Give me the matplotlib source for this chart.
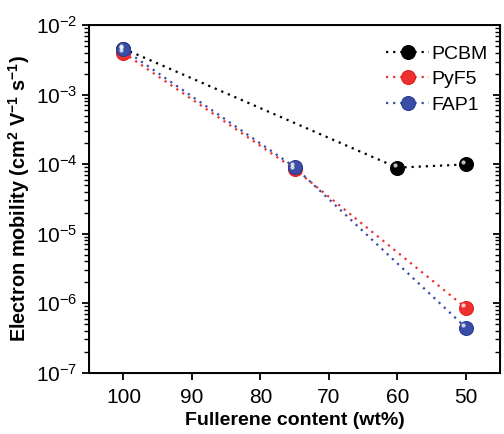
import numpy as np
import matplotlib
matplotlib.use('Agg')
import matplotlib.pyplot as plt
from matplotlib.transforms import offset_copy
from matplotlib.ticker import LogLocator, NullFormatter

plt.rcParams['font.family'] = ['Liberation Sans', 'DejaVu Sans']
plt.rcParams['mathtext.fontset'] = 'custom'
plt.rcParams['mathtext.rm'] = 'Liberation Sans'
plt.rcParams['mathtext.bf'] = 'Liberation Sans:bold'
plt.rcParams['mathtext.default'] = 'regular'

# data
pcbm_x = [100, 60, 50]
pcbm_y = [4.6e-3, 8.9e-5, 9.9e-5]
pyf5_x = [100, 75, 50]
pyf5_y = [4.0e-3, 8.5e-5, 8.6e-7]
fap1_x = [100, 75, 50]
fap1_y = [4.5e-3, 9.1e-5, 4.45e-7]

series = [
    ('PCBM', pcbm_x, pcbm_y, '#000000', '#000000'),
    ('PyF5', pyf5_x, pyf5_y, '#f03030', '#e02020'),
    ('FAP1', fap1_x, fap1_y, '#3a4ea8', '#2a3a90'),
]

fig = plt.figure(figsize=(5.04, 4.34), dpi=100)
ax = fig.add_axes([0.177, 0.1415, 0.815, 0.8005])

handles = []
for name, xs, ys, col, edge in series:
    h, = ax.plot(xs, ys, linestyle=(0, (1, 2.2)), linewidth=1.6, color=col,
                 marker='o', markersize=10, markerfacecolor=col,
                 markeredgecolor=edge, markeredgewidth=0.8, label=name, zorder=3)
    handles.append(h)
    # little highlight to mimic the shaded spheres
    tr = offset_copy(ax.transData, fig=fig, x=-1.8, y=1.8, units='points')
    ax.plot(xs, ys, linestyle='none', marker='o', markersize=3,
            markerfacecolor='white', markeredgewidth=0, alpha=0.75,
            transform=tr, zorder=4)

ax.set_yscale('log')
ax.set_ylim(1e-7, 1e-2)
ax.set_xlim(105, 45)
ax.set_xticks([100, 90, 80, 70, 60, 50])
ax.yaxis.set_minor_locator(LogLocator(base=10, subs=np.arange(2, 10), numticks=100))
ax.yaxis.set_minor_formatter(NullFormatter())

ax.set_xlabel('Fullerene content (wt%)', fontsize=14, fontweight='bold', labelpad=4)
ax.set_ylabel(r'Electron mobility (cm$^{\mathbf{2}}$ V$^{\mathbf{-1}}$ s$^{\mathbf{-1}}$)',
              fontsize=14.3, fontweight='bold', labelpad=3)

for s in ax.spines.values():
    s.set_linewidth(1.4)
ax.tick_params(axis='both', which='major', labelsize=15, width=1.3, length=5,
               direction='out', top=False)
ax.tick_params(axis='y', which='minor', width=1.0, length=3.5, direction='out')
ax.tick_params(axis='x', pad=6)

# right side ticks pointing in
ax2 = ax.twinx()
ax2.set_yscale('log')
ax2.set_ylim(1e-7, 1e-2)
ax2.yaxis.set_minor_locator(LogLocator(base=10, subs=np.arange(2, 10), numticks=100))
ax2.yaxis.set_minor_formatter(NullFormatter())
ax2.tick_params(axis='y', which='major', direction='in', length=5, width=1.3,
                labelright=False)
ax2.tick_params(axis='y', which='minor', direction='in', length=3.5, width=1.0,
                labelright=False)

ax.legend(handles=handles, loc='upper right', frameon=False, fontsize=14,
          handlelength=2.2, handletextpad=0.15, labelspacing=0.41,
          borderaxespad=0.0, bbox_to_anchor=(0.99, 0.965))

fig.savefig('out.png', dpi=100)
